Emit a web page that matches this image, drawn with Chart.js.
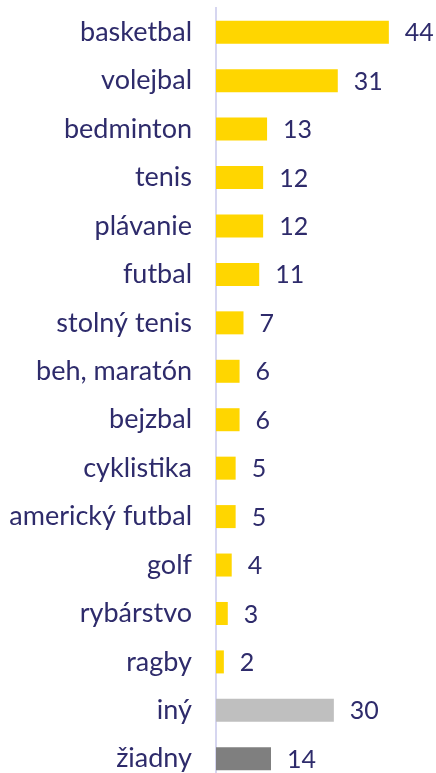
<!DOCTYPE html>
<html>
<head>
<meta charset="utf-8">
<script src="https://cdn.jsdelivr.net/npm/chart.js@4.4.0/dist/chart.umd.min.js"></script>
<style>
  html, body { margin: 0; padding: 0; background: #fff; overflow: hidden; }
  #wrap { position: relative; width: 436px; height: 783px; }
</style>
</head>
<body>
<div id="wrap"><canvas id="sportChart"></canvas></div>
<script>
// datos del gráfico
const categories = ['basketbal', 'volejbal', 'bedminton', 'tenis', 'plávanie', 'futbal',
  'stolný tenis', 'beh, maratón', 'bejzbal', 'cyklistika', 'americký futbal', 'golf',
  'rybárstvo', 'ragby', 'iný', 'žiadny'];
const values = [44, 31, 13, 12, 12, 11, 7, 6, 6, 5, 5, 4, 3, 2, 30, 14];
const barColors = ['#FFD600', '#FFD600', '#FFD600', '#FFD600', '#FFD600', '#FFD600',
  '#FFD600', '#FFD600', '#FFD600', '#FFD600', '#FFD600', '#FFD600', '#FFD600', '#FFD600',
  '#BFBFBF', '#7F7F7F'];

const textColor = '#2e2b6b';

// etiquetas de valor al final de cada barra
const valueLabels = {
  id: 'valueLabels',
  afterDatasetsDraw(chart) {
    const ctx = chart.ctx;
    const meta = chart.getDatasetMeta(0);
    ctx.save();
    ctx.font = '25px Lato';
    ctx.fillStyle = textColor;
    ctx.textAlign = 'left';
    ctx.textBaseline = 'middle';
    meta.data.forEach((bar, i) => {
      ctx.fillText(String(values[i]), bar.x + 16, bar.y + 1);
    });
    ctx.restore();
  }
};

new Chart(document.getElementById('sportChart'), {
  type: 'bar',
  data: {
    labels: categories,
    datasets: [{
      data: values,
      backgroundColor: barColors,
      borderWidth: 0,
      barPercentage: 0.95,
      categoryPercentage: 0.5
    }]
  },
  options: {
    indexAxis: 'y',
    responsive: true,
    maintainAspectRatio: false,
    animation: false,
    layout: { padding: { top: 8, right: 0, bottom: 0, left: 0 } },
    plugins: {
      legend: { display: false },
      tooltip: { enabled: false }
    },
    scales: {
      x: {
        display: false,
        min: 0,
        max: 56
      },
      y: {
        grid: { display: false, drawTicks: false },
        border: { display: true, color: '#d6d6f0', width: 2 },
        ticks: {
          color: textColor,
          font: { family: 'Lato', size: 27 },
          padding: 24
        },
        afterFit(scale) {
          scale.width = 216;
          scale.paddingTop = 0;
          scale.paddingBottom = 0;
        }
      }
    }
  },
  plugins: [valueLabels]
});
</script>
</body>
</html>
